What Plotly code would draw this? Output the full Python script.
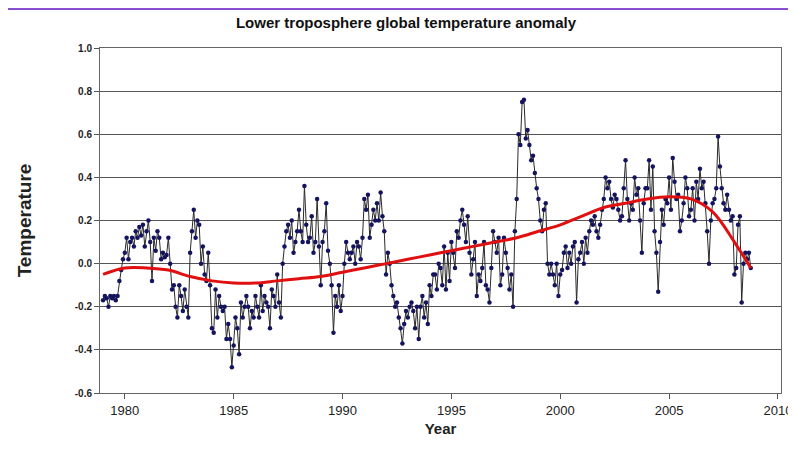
import numpy as np
import plotly.graph_objects as go

# --- DATA: monthly anomalies, one row per year ---
START_YEAR = 1979
MONTHLY = [
    [-0.17, -0.15, -0.16, -0.20, -0.15, -0.16, -0.15, -0.17, -0.15, -0.08, -0.03, 0.02],
    [0.05, 0.12, 0.02, 0.10, 0.12, 0.08, 0.15, 0.12, 0.17, 0.13, 0.18, 0.08],
    [0.15, 0.20, 0.10, -0.08, 0.12, 0.06, 0.15, 0.12, 0.02, 0.05, 0.03, 0.04],
    [0.12, 0.00, -0.12, -0.10, -0.20, -0.25, -0.10, -0.15, -0.22, -0.12, -0.20, -0.25],
    [0.05, 0.15, 0.25, 0.12, 0.20, 0.18, 0.00, 0.08, -0.05, -0.08, 0.05, -0.10],
    [-0.30, -0.32, -0.12, -0.25, -0.15, -0.20, -0.22, -0.20, -0.35, -0.28, -0.35, -0.48],
    [-0.38, -0.25, -0.30, -0.42, -0.18, -0.25, -0.20, -0.15, -0.20, -0.30, -0.22, -0.25],
    [-0.15, -0.20, -0.25, -0.10, -0.22, -0.15, -0.18, -0.20, -0.30, -0.12, -0.15, -0.20],
    [-0.05, -0.18, -0.25, 0.00, 0.08, 0.15, 0.18, 0.12, 0.20, 0.05, 0.10, 0.15],
    [0.25, 0.15, 0.10, 0.36, 0.18, 0.10, 0.12, 0.22, 0.05, 0.10, 0.30, 0.08],
    [-0.10, 0.10, 0.15, 0.28, 0.06, 0.00, -0.10, -0.32, -0.15, -0.20, -0.10, -0.22],
    [-0.15, 0.00, 0.10, 0.05, 0.02, 0.05, 0.08, 0.00, 0.10, 0.08, 0.02, 0.12],
    [0.30, 0.25, 0.32, 0.12, 0.18, 0.25, 0.20, 0.28, 0.20, 0.33, 0.22, 0.15],
    [-0.05, 0.05, 0.00, -0.10, -0.15, -0.20, -0.18, -0.25, -0.30, -0.37, -0.28, -0.22],
    [-0.25, -0.20, -0.18, -0.22, -0.30, -0.20, -0.35, -0.20, -0.15, -0.25, -0.18, -0.28],
    [-0.10, -0.15, -0.05, -0.05, -0.12, 0.00, -0.02, -0.10, 0.08, -0.12, 0.05, -0.08],
    [0.10, 0.05, -0.02, 0.15, 0.12, 0.20, 0.25, 0.18, 0.10, 0.22, 0.05, -0.05],
    [0.02, 0.10, -0.15, -0.05, -0.08, -0.02, 0.10, -0.10, -0.12, -0.18, -0.02, 0.15],
    [0.10, 0.05, 0.12, -0.10, -0.05, 0.12, 0.05, -0.02, -0.12, -0.05, -0.20, 0.15],
    [0.30, 0.60, 0.55, 0.75, 0.76, 0.58, 0.62, 0.55, 0.48, 0.50, 0.42, 0.35],
    [0.30, 0.20, 0.15, 0.25, 0.28, 0.00, -0.05, 0.00, -0.05, -0.10, 0.00, -0.15],
    [-0.05, -0.03, 0.05, 0.08, -0.02, 0.05, 0.00, 0.08, 0.10, -0.18, 0.02, 0.05],
    [0.10, 0.00, 0.12, 0.05, 0.15, 0.20, 0.18, 0.22, 0.15, 0.12, 0.18, 0.25],
    [0.30, 0.40, 0.35, 0.38, 0.30, 0.26, 0.32, 0.30, 0.25, 0.20, 0.22, 0.35],
    [0.48, 0.30, 0.20, 0.28, 0.25, 0.40, 0.32, 0.35, 0.20, 0.05, 0.28, 0.35],
    [0.35, 0.48, 0.25, 0.45, 0.15, 0.05, -0.13, 0.10, 0.25, 0.18, 0.30, 0.28],
    [0.40, 0.25, 0.49, 0.38, 0.30, 0.32, 0.15, 0.20, 0.28, 0.40, 0.35, 0.22],
    [0.25, 0.35, 0.20, 0.38, 0.30, 0.44, 0.35, 0.38, 0.28, 0.15, 0.00, 0.20],
    [0.28, 0.30, 0.35, 0.59, 0.45, 0.35, 0.28, 0.25, 0.32, 0.25, 0.20, 0.22],
    [-0.05, -0.02, 0.18, 0.22, -0.18, 0.00, 0.05, 0.02, 0.05, -0.02],
]

# smoothed trend (red curve), read at these years
TREND_YEARS = [1979, 1980, 1981, 1982, 1983, 1984, 1985, 1986, 1987, 1988, 1989, 1990,
               1991, 1992, 1993, 1994, 1995, 1996, 1997, 1998, 1999, 2000, 2001, 2002,
               2003, 2004, 2005, 2006, 2007, 2008, 2008.75]
TREND_VALUES = [-0.05, -0.02, -0.02, -0.03, -0.06, -0.08, -0.09, -0.09, -0.08, -0.07, -0.06, -0.04,
                -0.02, 0.00, 0.02, 0.04, 0.06, 0.08, 0.10, 0.12, 0.15, 0.18, 0.22, 0.26,
                0.28, 0.30, 0.31, 0.30, 0.24, 0.10, -0.02]

X_TICKS = [1980, 1985, 1990, 1995, 2000, 2005, 2010]
Y_TICKS = [-0.6, -0.4, -0.2, 0.0, 0.2, 0.4, 0.6, 0.8, 1.0]

years, temps = [], []
for i, row in enumerate(MONTHLY):
    for m, v in enumerate(row):
        years.append(START_YEAR + i + m / 12.0)
        temps.append(v)

FONT = "Liberation Sans, Arial, sans-serif"

fig = go.Figure()
fig.add_trace(go.Scatter(x=years, y=temps, mode='lines+markers',
                         line=dict(color='#2a2a2a', width=1),
                         marker=dict(color='#14145e', size=4.5), showlegend=False))
fig.add_trace(go.Scatter(x=TREND_YEARS, y=TREND_VALUES, mode='lines',
                         line=dict(color='#e01010', width=3, shape='spline', smoothing=1.0),
                         showlegend=False))

fig.update_layout(
    width=796, height=452, paper_bgcolor='white', plot_bgcolor='white',
    margin=dict(l=92, r=18, t=40, b=67),
    title=dict(text='<b>Lower troposphere global temperature anomaly</b>', x=0.5, xanchor='center',
               y=0.978, yanchor='top', font=dict(family=FONT, size=15, color='#111')),
    xaxis=dict(range=[1978.86, 2010.14], tickvals=X_TICKS, ticks='outside', ticklen=5,
               tickcolor='#555', showgrid=False, zeroline=False, showline=True, linecolor='#666',
               mirror=True, tickfont=dict(family=FONT, size=13, color='#222'),
               title=dict(text='<b>Year</b>', font=dict(family=FONT, size=15, color='#222'), standoff=6)),
    yaxis=dict(range=[-0.6, 1.0], tickvals=Y_TICKS,
               ticktext=['<b>%.1f</b>' % v for v in Y_TICKS], ticks='outside', ticklen=5,
               tickcolor='#555', showgrid=True, gridcolor='#555', gridwidth=1.2, zeroline=False,
               showline=True, linecolor='#666', mirror=True,
               tickfont=dict(family=FONT, size=10, color='#222'),
               title=dict(text='<b>Temperature</b>', font=dict(family=FONT, size=19, color='#222'), standoff=38)),
    shapes=[dict(type='line', xref='paper', yref='paper', x0=-0.2, x1=1.05, y0=1.113, y1=1.113,
                 line=dict(color='#8a4fd0', width=2))],
)

fig.write_html("out.html")
